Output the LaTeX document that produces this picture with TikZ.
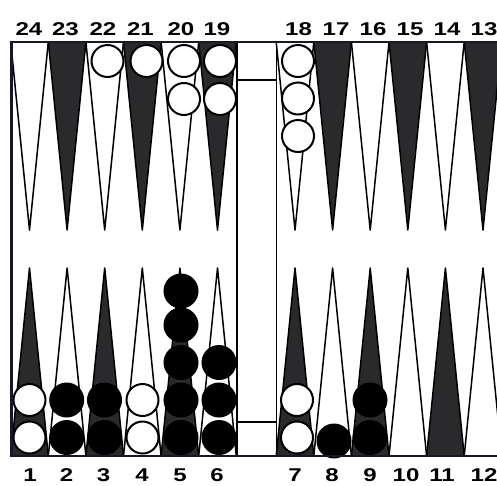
\documentclass[tikz,border=0pt]{standalone}
\usepackage{graphicx}
\usepackage{fontspec}
\setmainfont{Liberation Sans}
\definecolor{frameC}{RGB}{22,22,45}
\definecolor{darkC}{RGB}{42,42,45}
\begin{document}
\begin{tikzpicture}[x=1pt,y=-1pt,
  ptline/.style={draw=black, line width=1.5pt, line join=round},
  wchk/.style={circle, draw=black, fill=white, line width=2pt, minimum size=32pt, inner sep=0pt},
  bchk/.style={circle, draw=black, fill=black, line width=2pt, minimum size=33pt, inner sep=0pt},
  lbl/.style={font=\bfseries\fontsize{18.5}{18.5}\selectfont, anchor=base, inner sep=0pt},
  frameline/.style={draw=frameC, line width=2.6pt},
  barline/.style={draw=black, line width=1.8pt}]
\useasboundingbox (0,0) rectangle (497,485);
\fill[white] (0,0) rectangle (497,485);

% points
\foreach \k in {1,...,6}{
  \pgfmathsetmacro\xl{29.5+37.6*(\k-1)}
  \pgfmathsetmacro\xr{295+37.6*(\k-1)}
  \ifodd\k
    \def\bfil{darkC}\def\tfil{white}
  \else
    \def\bfil{white}\def\tfil{darkC}
  \fi
  \path[ptline, fill=\tfil] (\xl-18.8,42) -- (\xl,230) -- (\xl+18.8,42) -- cycle;
  \path[ptline, fill=\bfil] (\xl-18.8,456) -- (\xl,268) -- (\xl+18.8,456) -- cycle;
  \path[ptline, fill=\tfil] (\xr-18.8,42) -- (\xr,230) -- (\xr+18.8,42) -- cycle;
  \path[ptline, fill=\bfil] (\xr-18.8,456) -- (\xr,268) -- (\xr+18.8,456) -- cycle;
}

% top checkers (white)
\node[wchk] (w22a) at (107.5,61) {};
\node[wchk] (w21a) at (146.5,61) {};
\node[wchk] (w20a) at (184,61) {};
\node[wchk] (w20b) at (184,99) {};
\node[wchk] (w19a) at (220,61) {};
\node[wchk] (w19b) at (220,99) {};
\node[wchk] (w18a) at (298,61) {};
\node[wchk] (w18b) at (298,98.5) {};
\node[wchk] (w18c) at (298,136) {};

% bottom checkers
\node[wchk] (w1a) at (29.5,437.5) {};
\node[wchk] (w1b) at (29.5,400) {};
\node[bchk] (b2a) at (66.7,437.5) {};
\node[bchk] (b2b) at (66.7,400) {};
\node[bchk] (b3a) at (104.5,437.5) {};
\node[bchk] (b3b) at (104.5,400) {};
\node[wchk] (w4a) at (142.5,437.5) {};
\node[wchk] (w4b) at (142.5,400) {};
\node[bchk] (b5a) at (181,437.5) {};
\node[bchk] (b5b) at (181,400) {};
\node[bchk] (b5c) at (181,362.5) {};
\node[bchk] (b5d) at (181,325) {};
\node[bchk] (b5e) at (181,291) {};
\node[bchk] (b6a) at (219,437.5) {};
\node[bchk] (b6b) at (219,400) {};
\node[bchk] (b6c) at (219,362.5) {};
\node[wchk] (w7a) at (297,437.5) {};
\node[wchk] (w7b) at (297,400) {};
\node[bchk] (b8a) at (334,441) {};
\node[bchk] (b9a) at (370,437.5) {};
\node[bchk] (b9b) at (370,400) {};

% bar and frame
\coordinate (barTL) at (237,42);
\coordinate (barBL) at (237,456);
\coordinate (barTR) at (276.5,42);
\coordinate (barBR) at (276.5,456);
\draw[barline] (barTL) -- (barBL);
\draw[barline] (barTR) -- (barBR);
\draw[barline] (237,80) -- (276.5,80);
\draw[barline] (237,422) -- (276.5,422);
\draw[frameline] (11.5,42) -- (11.5,456);
\draw[frameline] (10.2,42) -- (497,42);
\draw[frameline] (10.2,456) -- (497,456);

% labels
\foreach \n/\x in {24/29,23/65.5,22/103,21/140.5,20/181,19/217,18/298.5,17/336,16/373,15/410,14/447,13/484}{
  \node[lbl] (t\n) at (\x,35) {\scalebox{1.3}[1]{\n}};
}
\foreach \n/\x in {1/30,2/66.5,3/103.5,4/142,5/180,6/217,7/295,8/332,9/370,10/406,11/442,12/484}{
  \node[lbl] (n\n) at (\x,481.5) {\scalebox{1.3}[1]{\n}};
}
\end{tikzpicture}
\end{document}
